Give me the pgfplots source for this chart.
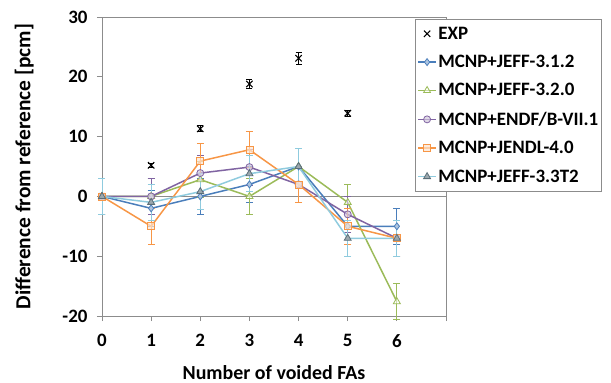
\documentclass[border=0pt]{standalone}
\usepackage{fontspec}
\setmainfont{Carlito}
\usepackage{pgfplots}
\pgfplotsset{compat=1.18}
\definecolor{cA}{HTML}{4A7EBB}
\definecolor{cB}{HTML}{9BBB59}
\definecolor{cC}{HTML}{8064A2}
\definecolor{cD}{HTML}{F79646}
\definecolor{cE}{HTML}{8FCBDE}
\definecolor{cEm}{HTML}{5A6E78}
\definecolor{axgray}{HTML}{8C8C8C}
\newcommand{\lf}{\bfseries\fontsize{19}{22}\selectfont}

\pgfplotstableread{
x y e
0 0 0
1 5.2 0.3
2 11.3 0.5
3 18.8 0.8
4 23.1 1.0
5 13.9 0.5
}\expdata
\pgfplotstableread{
x y e
0 0 3
1 -2 3
2 0 3
3 2 3
4 5 3
5 -5 3
6 -5 3
}\jeffA
\pgfplotstableread{
x y e
0 0 3
1 0 3
2 2.8 3
3 0 3
4 5 3
5 -1 3
6 -17.6 3
}\jeffB
\pgfplotstableread{
x y e
0 0 3
1 0 3
2 3.9 3
3 4.9 3
4 2 3
5 -3 3
6 -7 3
}\endf
\pgfplotstableread{
x y e
0 0 3
1 -5 3
2 5.9 3
3 7.8 3
4 2 3
5 -5 3
6 -7 3
}\jendl
\pgfplotstableread{
x y e
0 0 3
1 -1 3
2 0.8 3
3 3.8 3
4 5 3
5 -7 3
6 -7 3
}\jeffC

\begin{document}
\begin{tikzpicture}
\begin{axis}[
  name=ax,
  scale only axis,
  width=344bp, height=299bp,
  xmin=0, xmax=7, ymin=-20, ymax=30,
  xtick={0,1,2,3,4,5,6,7},
  xticklabels={0,1,2,3,4,5,6,{}},
  ytick={-20,-10,0,10,20,30},
  xtick pos=bottom, ytick pos=left,
  tick align=outside,
  major tick length=5bp,
  axis line style={axgray, line width=0.8pt},
  tick style={axgray, line width=0.8pt},
  /pgf/number format/assume math mode=true,
  ticklabel style={font=\lf},
  xticklabel style={yshift=-10bp},
  yticklabel style={xshift=-6bp},
  xlabel={Number of voided FAs},
  ylabel={Difference from reference [pcm]},
  xlabel style={font=\bfseries\fontsize{20}{23}\selectfont, yshift=-11bp},
  ylabel style={font=\bfseries\fontsize{21.5}{24}\selectfont, yshift=22bp},
  clip=false,
  legend style={at={(0.91,0.993)}, anchor=north west, draw=axgray, line width=0.6pt,
    font=\lf, legend cell align=left, row sep=11.5bp, inner xsep=2bp, inner ysep=6bp,
    nodes={inner sep=1.5bp}},
  legend image code/.code={
    \draw[mark repeat=2,mark phase=2] plot coordinates {(0bp,0bp) (9bp,0bp) (18bp,0bp)};
  },
  error bars/y dir=both, error bars/y explicit,
]
\draw[axgray, line width=0.8pt] (axis cs:0,0) -- (axis cs:7,0);

\addplot[only marks, mark=x, mark size=4.5bp, black, line width=1.1pt,
  error bars/.cd, error bar style={black, line width=0.8pt},
  error mark options={rotate=90, mark size=3bp, black, line width=0.8pt}]
  table[x=x, y=y, y error=e] {\expdata};
\addlegendentry{EXP}

\addplot[cA, line width=1.5pt, mark=diamond*, mark size=3.5bp,
  mark options={fill=cA!45, draw=cA, line width=0.8pt},
  error bars/.cd, error bar style={cA, line width=1pt},
  error mark options={rotate=90, mark size=3.5bp, cA, line width=1pt}]
  table[x=x, y=y, y error=e] {\jeffA};
\addlegendentry{MCNP+JEFF-3.1.2}

\addplot[cB, line width=1.5pt, mark=triangle*, mark size=4bp,
  mark options={fill=white, fill opacity=0.5, draw=cB, line width=0.8pt},
  error bars/.cd, error bar style={cB, line width=1pt},
  error mark options={rotate=90, mark size=3.5bp, cB, line width=1pt}]
  table[x=x, y=y, y error=e] {\jeffB};
\addlegendentry{MCNP+JEFF-3.2.0}

\addplot[cC, line width=1.5pt, mark=*, mark size=3.5bp,
  mark options={fill=cC!35, fill opacity=0.7, draw=cC, line width=0.8pt},
  error bars/.cd, error bar style={cC, line width=1pt},
  error mark options={rotate=90, mark size=3.5bp, cC, line width=1pt}]
  table[x=x, y=y, y error=e] {\endf};
\addlegendentry{MCNP+ENDF/B-VII.1}

\addplot[cD, line width=1.5pt, mark=square*, mark size=3.5bp,
  mark options={fill=cD!25, fill opacity=0.7, draw=cD, line width=0.8pt},
  error bars/.cd, error bar style={cD, line width=1pt},
  error mark options={rotate=90, mark size=3.5bp, cD, line width=1pt}]
  table[x=x, y=y, y error=e] {\jendl};
\addlegendentry{MCNP+JENDL-4.0}

\addplot[cE, line width=1.5pt, mark=triangle*, mark size=4bp,
  mark options={fill=cEm!60, draw=cEm, line width=0.8pt},
  error bars/.cd, error bar style={cE, line width=1pt},
  error mark options={rotate=90, mark size=3.5bp, cE, line width=1pt}]
  table[x=x, y=y, y error=e] {\jeffC};
\addlegendentry{MCNP+JEFF-3.3T2}
\end{axis}
\pgfresetboundingbox
\path[use as bounding box] (-102bp,-67bp) rectangle (509bp,316bp);
\end{tikzpicture}
\end{document}
